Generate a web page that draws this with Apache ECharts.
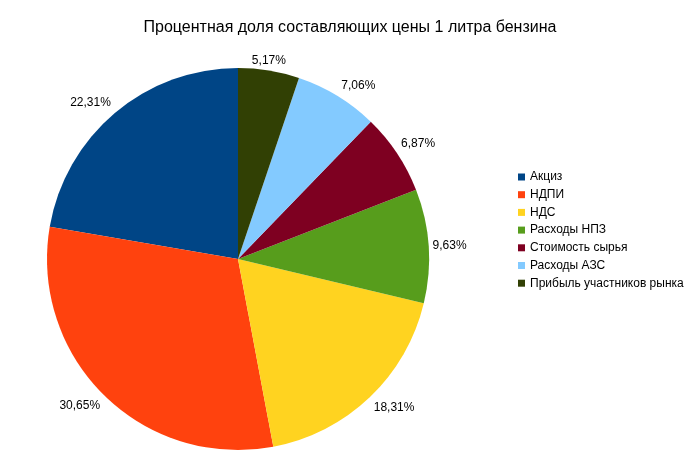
<!DOCTYPE html>
<html lang="ru">
<head>
  <meta charset="UTF-8">
  <title>Процентная доля составляющих цены 1 литра бензина</title>
  <style>
    * { margin: 0; padding: 0; }
    body { background: #fff; }
    #chart { width: 700px; height: 459px; }
  </style>
</head>
<body>
  <div id="chart"></div>
  <script src="https://cdn.jsdelivr.net/npm/echarts@6/dist/echarts.min.js"></script>
  <script>
    const names = ['Акциз', 'НДПИ', 'НДС', 'Расходы НПЗ', 'Стоимость сырья', 'Расходы АЗС', 'Прибыль участников рынка'];
    const values = [22.31, 30.65, 18.31, 9.63, 6.87, 7.06, 5.17];
    const colors = ['#004586', '#ff420e', '#ffd320', '#579d1c', '#7e0021', '#83caff', '#314004'];

    const cx = 238, cy = 259, r = 191;
    const total = values.reduce((a, b) => a + b, 0);

    // позиция подписи как в LibreOffice: угол у края круга
    function placeLabel(params) {
      const i = params.dataIndex;
      let before = 0;
      for (let k = 0; k < i; k++) before += values[k];
      const mid = (before + values[i] / 2) / total * Math.PI * 2;
      const dx = -Math.sin(mid), dy = -Math.cos(mid);
      const ax = cx + r * dx, ay = cy + r * dy;
      const gap = 4;
      let x = ax, y = ay, align = 'center', verticalAlign = 'middle';
      if (dx > 0.2) { align = 'left'; x = ax + gap; }
      else if (dx < -0.2) { align = 'right'; x = ax - gap; }
      if (dy > 0.2) { verticalAlign = 'top'; y = ay + gap; }
      else if (dy < -0.2) { verticalAlign = 'bottom'; y = ay - gap; }
      return { x: x, y: y, align: align, verticalAlign: verticalAlign };
    }

    const chart = echarts.init(document.getElementById('chart'));
    chart.setOption({
      animation: false,
      textStyle: { fontFamily: 'Liberation Sans' },
      title: {
        text: 'Процентная доля составляющих цены 1 литра бензина',
        left: 'center',
        top: 20,
        padding: 0,
        textStyle: { fontSize: 16, fontWeight: 'normal', color: '#000', fontFamily: 'Liberation Sans' }
      },
      legend: {
        orient: 'vertical',
        left: 518,
        top: 171,
        padding: 0,
        icon: 'rect',
        itemWidth: 7,
        itemHeight: 7,
        itemGap: 5.7,
        data: names,
        textStyle: { fontSize: 12, color: '#000', fontFamily: 'Liberation Sans' }
      },
      series: [{
        type: 'pie',
        center: [cx, cy],
        radius: r,
        startAngle: 90,
        clockwise: false,
        avoidLabelOverlap: false,
        itemStyle: { borderWidth: 0 },
        label: {
          show: true,
          position: 'outside',
          fontSize: 12,
          color: '#000',
          fontFamily: 'Liberation Sans',
          formatter: p => values[p.dataIndex].toFixed(2).replace('.', ',') + '%'
        },
        labelLine: { show: false },
        labelLayout: placeLabel,
        emphasis: { disabled: true },
        data: names.map((n, i) => ({ name: n, value: values[i], itemStyle: { color: colors[i] } }))
      }]
    });
  </script>
</body>
</html>
